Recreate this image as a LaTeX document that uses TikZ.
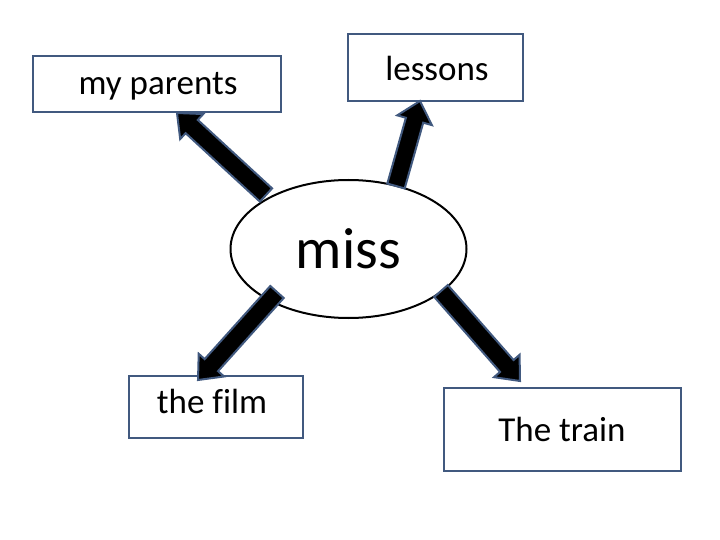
\documentclass[tikz,border=0pt]{standalone}
\usepackage{fontspec}
\setmainfont{Carlito}[Ligatures=NoCommon]
\usetikzlibrary{calc,shapes.geometric}
\definecolor{edge}{HTML}{41597F}
\tikzset{
  box/.style={draw=edge,line width=2pt,fill=white,inner sep=0pt},
  txt/.style={inner sep=0pt,anchor=base,font=\fontsize{35}{40}\selectfont},
  oval/.style={draw=black,line width=2pt,ellipse,fill=white,minimum width=236pt,minimum height=138pt,inner sep=0pt,font=\fontsize{58}{64}\selectfont},
  arr/.style={draw=edge,line width=2pt,fill=black,line join=miter},
}
\newcommand\blockarrow[4]{% from, to, shaft half width, head half width
  \coordinate (hb) at ($(#2)!20pt!(#1)$);
  \draw[arr] ($(#1)!#3!90:(#2)$) -- ($(hb)!#3!90:(#2)$) -- ($(hb)!#4!90:(#2)$) -- (#2)
    -- ($(hb)!#4!-90:(#2)$) -- ($(hb)!#3!-90:(#2)$) -- ($(#1)!#3!-90:(#2)$) -- cycle;
}
\begin{document}
\begin{tikzpicture}[x=1pt,y=-1pt]
\useasboundingbox (0,0) rectangle (720,540);
\node[box,minimum width=248pt,minimum height=56pt] (par) at (157,84) {};
\node[txt] (partxt) at (158,95) {my parents};
\node[box,minimum width=175pt,minimum height=67pt] (les) at (435.5,67.5) {};
\node[txt] (lestxt) at (437,81) {lessons};
\node[box,minimum width=174pt,minimum height=62pt] (film) at (216,407) {};
\node[txt] (filmtxt) at (212,413) {the film};
\node[box,minimum width=237pt,minimum height=83pt] (train) at (562.5,429.5) {};
\node[txt] (traintxt) at (562,441) {The train};
\node[oval] (miss) at (348.5,249) {miss};
\coordinate (t1) at (266,195);
\coordinate (t2) at (396,186);
\coordinate (t3) at (277,292);
\coordinate (t4) at (441,291);
\coordinate (p1) at (177,113);
\coordinate (p2) at (420,101);
\coordinate (p3) at (198,380);
\coordinate (p4) at (520,381);
\blockarrow{t1}{p1}{9pt}{17pt}
\blockarrow{t2}{p2}{9pt}{18pt}
\blockarrow{t3}{p3}{9pt}{17pt}
\blockarrow{t4}{p4}{9pt}{17pt}
\end{tikzpicture}
\end{document}
